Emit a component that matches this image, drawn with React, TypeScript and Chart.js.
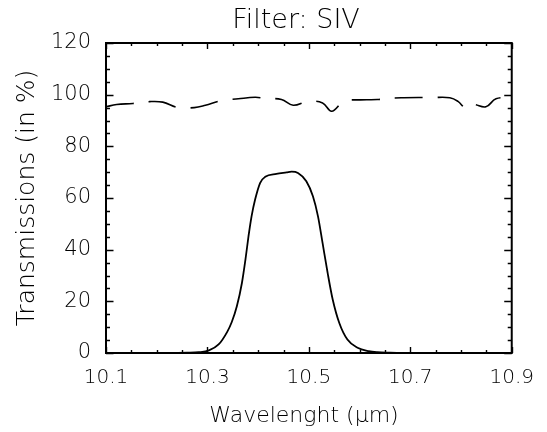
import React, { useEffect, useRef } from "react";
import { Chart, registerables } from "chart.js";

Chart.register(...registerables);

// Filter transmission (solid)
const filterWavelength = [10.22, 10.26, 10.283, 10.303, 10.322, 10.339, 10.348, 10.358, 10.368, 10.375, 10.381, 10.387, 10.394, 10.404, 10.414, 10.436, 10.456, 10.466, 10.4785, 10.495, 10.508, 10.518, 10.527, 10.537, 10.547, 10.56, 10.576, 10.596, 10.618, 10.635, 10.66, 10.68];
const filterTransmission = [0, 0.1, 0.3, 1.0, 3.3, 8.2, 12.0, 18.1, 27.1, 36.2, 45.2, 52.9, 59.4, 65.9, 68.2, 69.3, 69.9, 70.2, 69.7, 66.5, 60.7, 52.9, 42.6, 31.0, 20.7, 11.6, 5.2, 2.0, 0.7, 0.3, 0.1, 0];

// Window / atmosphere transmission (dashed)
const windowWavelength = [10.1, 10.121, 10.153, 10.186, 10.212, 10.241, 10.274, 10.296, 10.326, 10.361, 10.394, 10.413, 10.446, 10.469, 10.498, 10.527, 10.545, 10.569, 10.602, 10.635, 10.657, 10.687, 10.745, 10.778, 10.794, 10.81, 10.823, 10.849, 10.869, 10.9];
const windowTransmission = [95.3, 96.2, 96.6, 97.3, 97.1, 95.1, 95.0, 95.9, 97.6, 98.4, 99.0, 98.6, 98.1, 95.9, 97.4, 96.8, 93.6, 97.4, 98.0, 98.1, 98.6, 98.8, 98.9, 98.8, 97.4, 94.7, 96.2, 95.3, 98.4, 98.8];

const xTickValues = [10.1, 10.3, 10.5, 10.7, 10.9];
const yTickValues = [0, 20, 40, 60, 80, 100, 120];
const xMinorValues = [10.15, 10.2, 10.25, 10.35, 10.4, 10.45, 10.55, 10.6, 10.65, 10.75, 10.8, 10.85];
const yMinorValues = [5, 10, 15, 25, 30, 35, 45, 50, 55, 65, 70, 75, 85, 90, 95, 105, 110, 115];

const titleText = "Filter: SIV";
const xTitleText = "Wavelenght (\u00b5m)";
const yTitleText = "Transmissions (in %)";

const FONT = "'DejaVu Sans', sans-serif";

const framePlugin = {
  id: "idlFrame",
  afterDatasetsDraw(chart: any) {
    const { ctx, chartArea: a, scales } = chart;
    const xs = scales.x;
    const ys = scales.y;
    ctx.save();
    ctx.strokeStyle = "#000";
    ctx.lineWidth = 2;
    ctx.strokeRect(a.left, a.top, a.right - a.left, a.bottom - a.top);
    ctx.lineWidth = 1.4;
    ctx.beginPath();
    const xt = (vals: number[], len: number) => {
      vals.forEach((v) => {
        const px = Math.round(xs.getPixelForValue(v)) + 0.5;
        ctx.moveTo(px, a.bottom);
        ctx.lineTo(px, a.bottom - len);
        ctx.moveTo(px, a.top);
        ctx.lineTo(px, a.top + len);
      });
    };
    const yt = (vals: number[], len: number) => {
      vals.forEach((v) => {
        const py = Math.round(ys.getPixelForValue(v)) + 0.5;
        ctx.moveTo(a.left, py);
        ctx.lineTo(a.left + len, py);
        ctx.moveTo(a.right, py);
        ctx.lineTo(a.right - len, py);
      });
    };
    xt(xTickValues, 6);
    xt(xMinorValues, 3);
    yt(yTickValues, 7.5);
    yt(yMinorValues, 4);
    ctx.stroke();

    ctx.fillStyle = "#000";
    ctx.textAlign = "center";
    ctx.textBaseline = "alphabetic";
    ctx.font = `200 27px ${FONT}`;
    ctx.fillText(titleText, 296, 28);
    ctx.font = `200 22px ${FONT}`;
    ctx.fillText(xTitleText, 304, 422);
    ctx.translate(34, 198);
    ctx.rotate(-Math.PI / 2);
    ctx.font = `200 25px ${FONT}`;
    ctx.fillText(yTitleText, 0, 0);
    ctx.restore();
  },
};

export default function App() {
  const ref = useRef<HTMLCanvasElement>(null);
  useEffect(() => {
    document.body.style.margin = "0";
    const canvas = ref.current!;
    const chart = new Chart(canvas, {
      type: "line",
      data: {
        datasets: [
          {
            label: "Filter",
            data: filterWavelength.map((x, i) => ({ x, y: filterTransmission[i] })),
            borderColor: "#000",
            borderWidth: 1.8,
            pointRadius: 0,
            cubicInterpolationMode: "monotone",
            fill: false,
          },
          {
            label: "Window",
            data: windowWavelength.map((x, i) => ({ x, y: windowTransmission[i] })),
            borderColor: "#000",
            borderWidth: 1.6,
            borderDash: [28, 15],
            pointRadius: 0,
            tension: 0.4,
            fill: false,
          },
        ],
      },
      options: {
        responsive: false,
        animation: false,
        events: [],
        layout: { padding: { left: 0, right: 31, top: 43, bottom: 0 } },
        plugins: { legend: { display: false }, title: { display: false }, tooltip: { enabled: false } },
        scales: {
          x: {
            type: "linear",
            min: 10.1,
            max: 10.9,
            grid: { display: false, drawTicks: false },
            border: { display: false },
            afterBuildTicks: (s: any) => {
              s.ticks = xTickValues.map((value) => ({ value }));
            },
            afterFit: (s: any) => {
              s.height = 79;
            },
            ticks: {
              autoSkip: false,
              maxRotation: 0,
              padding: 13,
              color: "#000",
              font: { family: FONT, size: 20, weight: "200" as any },
              callback: (v: any) => Number(v).toFixed(1),
            },
          },
          y: {
            type: "linear",
            min: 0,
            max: 120,
            grid: { display: false, drawTicks: false },
            border: { display: false },
            afterBuildTicks: (s: any) => {
              s.ticks = yTickValues.map((value) => ({ value }));
            },
            afterFit: (s: any) => {
              s.width = 106;
            },
            ticks: {
              autoSkip: false,
              padding: 15,
              color: "#000",
              font: { family: FONT, size: 21, weight: "200" as any },
              callback: (v: any) => String(v),
            },
          },
        },
      },
      plugins: [framePlugin],
    });
    return () => chart.destroy();
  }, []);
  return <canvas ref={ref} width={547} height={432} style={{ display: "block" }} />;
}
